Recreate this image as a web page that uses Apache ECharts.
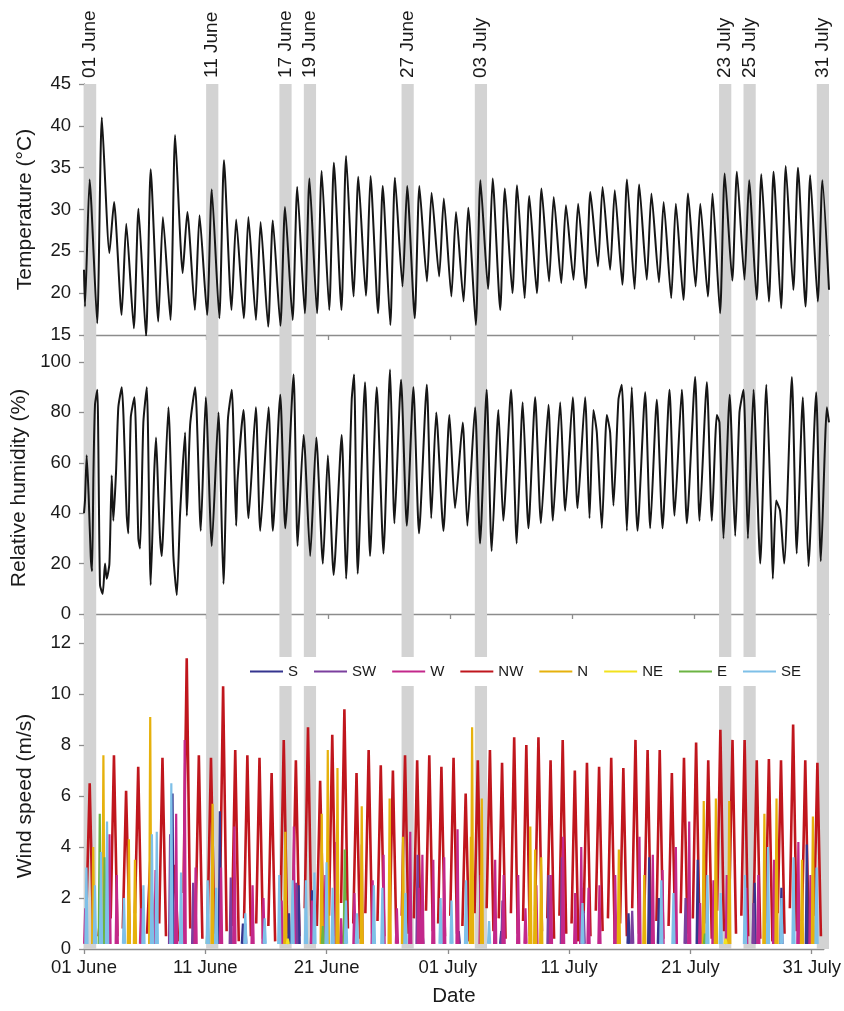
<!DOCTYPE html>
<html><head><meta charset="utf-8">
<script src="https://cdn.jsdelivr.net/npm/echarts@6/dist/echarts.min.js"></script>
<style>html,body{margin:0;padding:0;background:#fff}#c{width:844px;height:1011px}</style>
</head><body><div id="c"></div>
<script>
// ---- axis ticks / bands ----
const tickDays = [0,10,20,30,40,50,60];
const tickLabels = ['01 June','11 June','21 June','01 July','11 July','21 July','31 July'];
const bandDays = [0,10,16,18,26,32,52,54,60];
const bandLabels = ['01 June','11 June','17 June','19 June','27 June','03 July','23 July','25 July','31 July'];

// ---- temperature: daily minimum (night) and maximum (day), degC ----
const tempStart = 22.8, tempEnd = 20.4;
const tempMin = [18.4,16.4,24.8,17.4,15.8,14.8,16.6,16.8,22.4,18.0, 17.4,17.0,18.0,17.0,16.8,16.0,16.1,16.8,17.6,17.6,
  18.0,18.0,19.6,19.7,17.6,16.2,20.8,17.0,21.4,22.0, 19.6,19.0,16.2,20.5,18.0,20.0,19.4,20.0,21.4,21.2,
  21.6,20.6,23.2,22.8,21.0,20.5,21.6,21.3,19.4,19.2, 20.8,19.6,17.6,21.5,21.6,19.2,19.0,18.2,20.4,18.4, 19.0];
const tempMax = [33.6,41.0,30.9,28.3,30.1,34.8,29.1,38.9,29.7,29.3, 32.4,35.9,28.8,29.1,28.5,28.7,30.3,32.7,33.7,34.6,
  35.6,36.4,33.9,34.0,32.8,33.8,32.8,32.8,32.0,31.3, 29.7,30.2,33.5,33.7,32.5,32.9,31.6,32.5,31.5,30.5,
  30.7,32.1,32.7,32.3,33.6,33.0,31.9,30.9,30.7,31.9, 30.7,31.9,34.3,34.5,33.5,34.2,34.5,35.2,35.0,34.1, 33.5];

// ---- relative humidity: time (days since 01 June) and value (%) ----
const humT = [0,0.08,0.22,0.38,0.55,0.66,0.77,0.9,1.09,1.31, 1.53,1.72,1.86,2.08,2.27,2.40,2.62,2.81,3.09,3.50,
  3.63,3.83,4.13,4.45,4.59,4.86,5.14,5.46,5.74,5.90, 6.09,6.23,6.37,6.50,6.91,7.32,7.60,7.87,8.28,8.42,
  8.69,9.10,9.56,9.97,10.46,11.01,11.42,11.78,12.10,12.46, 12.57,13.06,13.47,14.07,14.43,15.11,15.46,16.07,16.48,17.16,
  17.49,17.98,18.11,18.52,19.02,19.56,19.97,20.44,21.10,21.46, 21.92,22.11,22.41,23.01,23.42,23.97,24.52,25.06,25.42,25.96,
  26.43,26.97,27.43,28.07,28.43,28.84,29.43,29.92,30.38,31.01, 31.39,32.02,32.43,32.97,33.38,33.93,34.33,34.97,35.43,35.92,
  36.39,36.94,37.41,38.03,38.39,38.99,39.40,40.02,40.41,41.03, 41.39,41.71,41.99,42.40,42.81,43.08,43.35,43.76,44.03,44.45,
  44.85,45.32,45.95,46.36,46.90,47.37,47.94,48.35,48.95,49.36, 50.04,50.40,51.00,51.41,51.82,52.03,52.36,52.87,53.32,53.67,
  54.00,54.36,54.82,55.37,55.87,56.25,56.40,56.67,56.99,57.33, 57.96,58.36,58.86,58.97,59.32,59.95,60.33,60.83,61.0];
const humV = [40,45,63,47,23,17,55,83,89,11.5, 8,20,14,20,55,37,56,82,90,39,
  32,78,86,30,26,76,90,11.5,55,70, 46,30,23,35,82,23,7.5,40,72,39,
  75,90,33,86,27,80,12,77,89,35, 53,81,38,82,33,82,33,87,34,95,
  27,71,63,23,70,20,63,15.5,71,14, 85,95,16,92,23,90,24,97,36,93,
  35,90,32,91,38,80,33,79,42,76, 35,82,28,89,25,81,37,89,28,84,
  34,86,36,83,37,84,41,86,42,86, 38,81,72,34,79,72,43,85,91,33,
  90,33,88,34,85,34,89,39,89,36, 94,37,92,37,79,76,30,87,31,80,
  89,30,89,20,91,40,14,45,41,20, 94,24,86,72,19,88,21,82,76];

// ---- wind speed (m/s) ----
// NW: daily episode (start value, daily peak, end value)
const nwStart = [1.5,0.5,1.2,0.8,1.4,0.6,1.0,0.7,2.2,1.0, 1.3,1.6,0.9,1.2,1.0,0.9,1.5,1.1,1.6,0.9,
  1.3,1.8,1.0,1.4,1.1,0.8,1.3,1.2,1.5,1.0, 1.3,0.9,1.4,1.6,1.2,1.4,1.1,1.5,1.2,1.3,
  1.0,1.4,1.5,1.2,1.0,1.6,1.3,1.1,0.9,1.4, 1.2,1.0,1.5,1.7,1.3,1.2,1.0,1.4,1.6,1.1, 1.3];
const nwMax = [6.5,2.0,7.6,6.2,7.15,3.5,7.5,3.3,11.4,7.6, 7.5,10.3,7.8,7.6,7.5,6.9,8.2,7.4,8.7,6.6,
  8.4,9.4,6.9,7.8,7.2,7.0,7.6,7.4,7.6,7.15, 7.5,6.1,7.4,7.8,7.3,8.3,8.0,8.3,7.4,8.2,
  7.0,7.3,7.15,7.5,7.1,8.2,7.8,7.8,6.9,7.5, 8.1,7.4,8.6,8.2,8.2,7.4,7.45,7.4,8.8,7.4, 7.3];
const nwEnd = [0.4,0.3,0.5,0.6,0.3,0.4,0.5,0.3,0.8,0.4, 0.6,0.7,0.3,0.5,0.4,0.3,0.6,0.5,0.7,0.4,
  0.5,0.8,0.4,0.6,0.5,0.3,0.6,0.4,0.7,0.5, 0.6,0.3,0.5,0.7,0.4,0.6,0.5,0.7,0.4,0.6,
  0.3,0.5,0.7,0.4,0.5,0.6,0.5,0.4,0.3,0.6, 0.5,0.4,0.7,0.6,0.5,0.4,0.3,0.6,0.7,0.4, 0.5];
// other directions: [time (days since 01 June), peak speed]
const windS = [[7.3,6.1],[11.2,5.4],[13.1,1.0],[16.9,1.4],[17.7,2.5],[18.8,2.3],[27.9,0.7],[30.9,0.7],[34.4,0.7],
  [41.0,2.4],[44.9,1.4],[46.6,3.6],[47.4,2.0],[50.6,3.5],[55.3,2.6],[57.5,2.4],[59.6,4.1]];
const windSW = [[7.1,4.5],[9.0,2.6],[12.1,2.8],[13.3,1.0],[17.5,2.6],[27.5,3.7],[34.5,1.9],[38.3,2.9],[39.4,3.6],
  [41.2,1.5],[45.2,1.5],[49.6,2.0],[55.2,1.8]];
const windW = [[0.1,1.6],[2.1,4.5],[2.7,2.9],[4.7,1.6],[5.9,3.1],[7.6,5.3],[8.3,8.2],[9.2,3.2],[11.3,3.2],[12.4,4.8],
  [13.9,2.5],[14.8,2.0],[16.3,1.9],[17.3,4.8],[18.8,1.9],[19.9,2.9],[20.8,4.2],[21.2,1.2],[22.3,2.2],[22.9,4.1],
  [23.8,2.7],[24.7,3.7],[25.8,1.6],[26.9,4.6],[27.6,2.4],[27.9,3.7],[28.8,3.5],[29.7,3.6],[30.8,4.7],[32.7,2.9],
  [33.9,3.5],[34.6,2.9],[35.8,2.9],[36.4,1.6],[37.3,2.5],[38.5,2.9],[39.5,4.4],[40.5,2.2],[41.0,4.0],[41.6,2.4],
  [42.5,2.5],[43.8,2.9],[45.8,4.4],[46.9,3.7],[47.7,3.1],[48.8,4.0],[49.9,5.0],[50.8,1.8],[51.9,2.7],[53.0,2.9],
  [54.6,2.4],[55.6,2.9],[56.9,3.5],[58.9,4.2],[59.9,2.9]];
const windN = [[0.76,4.0],[1.6,7.6],[3.7,4.3],[4.2,3.5],[5.46,9.1],[10.6,5.7],[16.6,4.6],[19.6,5.3],[20.1,7.8],[20.9,7.1],
  [22.9,5.6],[25.2,5.9],[26.3,4.4],[31.9,4.4],[32.0,8.7],[32.8,5.9],[36.8,4.8],[37.2,3.9],[37.7,3.6],[44.1,3.9],
  [46.2,2.9],[51.1,5.8],[52.1,5.9],[53.2,5.8],[56.1,5.3],[57.1,5.9],[59.2,3.5],[60.1,5.2]];
const windNE = [[16.8,0.4],[52.9,0.4]];
const windE = [[1.3,5.3],[1.7,3.6],[10.2,1.0],[19.7,0.9],[21.5,3.9],[51.2,0.6]];
const windSE = [[0.2,3.2],[0.9,2.5],[1.4,3.8],[1.9,5.0],[3.3,2.0],[4.9,2.5],[5.6,4.5],[6.0,4.6],[7.2,6.5],[8.0,3.0],
  [10.2,2.7],[10.9,2.4],[13.3,1.4],[14.9,1.2],[16.1,2.9],[17.2,2.7],[18.3,2.7],[19.0,3.0],[20.0,3.4],[20.5,2.4],
  [21.6,1.9],[22.5,1.4],[23.9,2.5],[24.6,2.4],[26.5,2.2],[29.4,2.0],[30.3,1.9],[31.5,2.7],[33.4,1.1],[41.1,1.8],
  [47.6,2.7],[48.6,2.2],[51.4,2.9],[52.5,2.2],[54.5,2.9],[56.4,4.0],[57.5,2.0],[58.5,3.6],[60.4,3.2]];

// ---- build series data ----
const FONT = 'Liberation Sans, Arial, Helvetica, sans-serif';
const tempData = [[0, tempStart]];
tempMin.forEach((v, d) => { tempData.push([d + 0.08, v]); tempData.push([d + 0.46, tempMax[d]]); });
tempData.push([61, tempEnd]);
const humData = humT.map((t, i) => [t, humV[i]]);
const nwData = [];
nwMax.forEach((v, d) => { nwData.push([d + 0.2, nwStart[d]], [d + 0.47, v], [d + 0.76, nwEnd[d]], [d + 0.77, '-']); });
const spikeBase = 0.2;
function spikes(eps) {
  const out = [];
  eps.slice().sort((a, b) => a[0] - b[0]).forEach(([t, v]) => {
    out.push([t - 0.09, spikeBase], [t, v], [t + 0.09, spikeBase], [t + 0.1, '-']);
  });
  return out;
}
const dirs = [
  {name:'S', color:'#35358f', eps:windS},
  {name:'SW', color:'#7b3f9e', eps:windSW},
  {name:'W', color:'#c3288b', eps:windW},
  {name:'N', color:'#e6b10c', eps:windN},
  {name:'NE', color:'#f2e21e', eps:windNE},
  {name:'E', color:'#6cb443', eps:windE},
  {name:'SE', color:'#7ec0e8', eps:windSE}
];

const AX = '#8c8c8c', TXT = '#1a1a1a';
function xAx(gi, withLabels) {
  return {
    type:'value', gridIndex:gi, min:0, max:61, interval:10,
    splitLine:{show:false},
    axisLine:{show:true, lineStyle:{color:AX, width:1.3}},
    axisTick:{show:true, length:5, customValues:tickDays, lineStyle:{color:AX, width:1.3}},
    axisLabel:{show:withLabels, customValues:tickDays, margin:9, fontSize:18.5, color:TXT, fontFamily:FONT,
      formatter: v => { const i = tickDays.indexOf(Math.round(v)); return i >= 0 ? tickLabels[i] : ''; }},
    name: withLabels ? 'Date' : '', nameLocation:'middle', nameGap:37,
    nameTextStyle:{fontSize:20.5, color:TXT, fontFamily:FONT}
  };
}
function yAx(gi, min, max, interval, name) {
  return {
    type:'value', gridIndex:gi, min, max, interval,
    splitLine:{show:false},
    axisLine:{show:true, lineStyle:{color:AX, width:1.3}},
    axisTick:{show:true, length:5, lineStyle:{color:AX, width:1.3}},
    axisLabel:{margin:13, fontSize:18.5, color:TXT, fontFamily:FONT},
    name, nameLocation:'middle', nameGap:48,
    nameTextStyle:{fontSize:21, color:TXT, fontFamily:FONT}
  };
}

const series = [
  {
    type:'line', xAxisIndex:3, yAxisIndex:3, data:[[0,0]], silent:true, z:1,
    showSymbol:false, lineStyle:{opacity:0},
    markArea:{
      silent:true,
      itemStyle:{color:'#d3d3d3'},
      label:{show:true, position:'top', rotate:90, align:'left', verticalAlign:'middle', distance:6,
        fontSize:19, color:TXT, fontFamily:FONT},
      data: bandDays.map((d, i) => [{xAxis:d, name:bandLabels[i]}, {xAxis:d + 1}])
    }
  },
  {type:'line', name:'Temperature', xAxisIndex:0, yAxisIndex:0, data:tempData, showSymbol:false, smooth:0.2,
    lineStyle:{color:'#161616', width:2}, z:3},
  {type:'line', name:'Humidity', xAxisIndex:1, yAxisIndex:1, data:humData, showSymbol:false, smooth:0.2,
    lineStyle:{color:'#161616', width:2}, z:3},
  {type:'line', name:'NW', xAxisIndex:2, yAxisIndex:2, data:nwData, showSymbol:false, connectNulls:false,
    color:'#c0161d', lineStyle:{color:'#c0161d', width:2.6}, z:3}
];
dirs.forEach(o => series.push({
  type:'line', name:o.name, xAxisIndex:2, yAxisIndex:2, data:spikes(o.eps), showSymbol:false, connectNulls:false,
  color:o.color, lineStyle:{color:o.color, width:2.2}, z:4
}));

const chart = echarts.init(document.getElementById('c'), null, {renderer:'canvas'});
chart.setOption({
  animation:false,
  backgroundColor:'#fff',
  textStyle:{fontFamily:FONT},
  grid:[
    {left:84, width:745, top:84, height:251},
    {left:84, width:745, top:362, height:252},
    {left:84, width:745, top:643, height:306},
    {left:84, width:745, top:84, height:865}
  ],
  xAxis:[xAx(0,false), xAx(1,false), xAx(2,true),
    {type:'value', gridIndex:3, min:0, max:61, show:false}],
  yAxis:[yAx(0,15,45,5,'Temperature (°C)'), yAx(1,0,100,20,'Relative humidity (%)'), yAx(2,0,12,2,'Wind speed (m/s)'),
    {type:'value', gridIndex:3, min:0, max:1, show:false}],
  legend:{
    data:['S','SW','W','NW','N','NE','E','SE'],
    left:245, top:657, orient:'horizontal',
    icon:'rect', itemWidth:33, itemHeight:2, itemGap:16,
    backgroundColor:'#fff', padding:[7,5],
    textStyle:{fontSize:15, color:TXT, fontFamily:FONT},
    selectedMode:false
  },
  series
});
</script></body></html>
